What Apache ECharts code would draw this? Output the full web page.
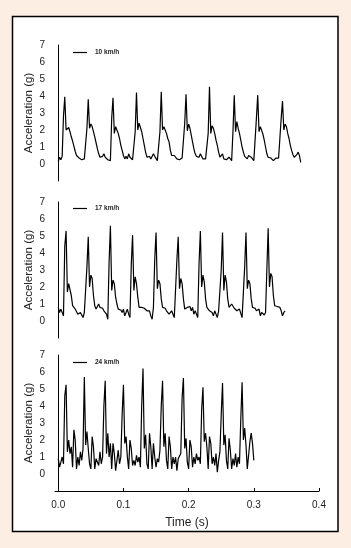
<!DOCTYPE html>
<html>
<head>
<meta charset="utf-8">
<script src="https://cdn.jsdelivr.net/npm/echarts@6/dist/echarts.min.js"></script>
<style>
  html, body { margin: 0; padding: 0; background: #fdeee4; }
  #chart { width: 351px; height: 548px; }
</style>
</head>
<body>
<div id="chart"></div>
<script>
// legend names for the three panels
const speeds = ["10 km/h", "17 km/h", "24 km/h"];
// sampling step of the traces, seconds
const sampleStep = 0.002;

// acceleration (g), one value per sample
const acc10 = [
  0.15, 0.4, 0.25, 0.45, 2.8, 3.95, 2.0, 2.1, 2.15, 1.9, 1.6, 1.35, 1.05, 0.75, 0.5, 0.45, 0.35, 0.3, 0.25, 0.25,
  0.3, 0.25, 2.1, 3.8, 2.1, 2.35, 2.2, 1.9, 1.6, 1.25, 0.9, 0.6, 0.4, 0.35, 0.45, 0.6, 0.4, 0.3, 0.25, 0.3,
  0.2, 2.7, 3.9, 1.8, 2.2, 2.0, 1.8, 1.5, 1.1, 0.8, 0.5, 0.3, 0.45, 0.3, 0.6, 0.4, 0.3, 0.25, 0.25, 1.9,
  4.2, 2.0, 2.4, 2.3, 1.9, 1.5, 1.1, 0.7, 0.4, 0.35, 0.45, 0.3, 0.35, 0.6, 0.45, 0.35, 0.2, 0.15, 1.9, 4.25,
  2.0, 2.2, 2.0, 1.8, 1.5, 1.3, 0.8, 0.5, 0.5, 0.5, 0.5, 0.3, 0.2, 0.25, 0.25, 0.35, 0.3, 2.4, 4.1, 1.95,
  2.35, 2.1, 1.7, 1.3, 0.9, 0.6, 0.45, 0.5, 0.4, 0.6, 0.5, 0.3, 0.25, 0.3, 0.2, 1.8, 4.55, 1.8, 2.25, 2.1,
  1.8, 1.4, 1.1, 0.7, 0.4, 0.5, 0.6, 0.3, 0.2, 0.25, 0.3, 0.4, 0.35, 0.2, 1.9, 4.05, 1.9, 2.5, 2.1, 1.8,
  1.4, 1.0, 0.7, 0.45, 0.45, 0.3, 0.5, 0.55, 0.4, 0.3, 0.2, 0.3, 2.7, 4.05, 1.9, 2.2, 2.1, 1.75, 1.4, 1.0,
  0.6, 0.4, 0.3, 0.35, 0.35, 0.2, 0.3, 0.35, 0.3, 0.35, 0.35, 2.7, 3.7, 2.0, 2.35, 2.2, 1.8, 1.5, 1.1, 0.8,
  0.55, 0.4, 0.5, 0.55, 0.7, 0.5, 0.1
];
const acc17 = [
  0.8, 0.5, 0.7, 0.6, 0.3, 4.4, 5.3, 1.7, 2.2, 2.1, 1.5, 0.9, 1.0, 0.7, 0.6, 0.4, 0.3, 0.5, 0.6, 0.2,
  0.5, 0.6, 3.2, 4.95, 2.0, 2.7, 2.5, 1.5, 0.9, 0.7, 0.8, 1.0, 0.8, 0.7, 0.75, 0.6, 0.7, 0.4, 0.1, 3.5,
  5.6, 1.8, 2.4, 2.2, 1.4, 1.0, 0.7, 0.8, 0.65, 0.5, 0.7, 0.3, 0.5, 0.7, 0.4, 0.2, 3.3, 5.05, 1.8, 2.6,
  2.2, 1.4, 0.8, 0.8, 0.8, 0.85, 0.75, 0.8, 0.6, 0.5, 0.6, 0.3, 0.1, 0.8, 3.6, 5.2, 1.9, 2.4, 2.2, 1.3,
  0.8, 0.7, 0.75, 0.6, 0.7, 0.4, 0.3, 0.6, 0.4, 0.2, 0.3, 3.6, 4.95, 1.9, 2.5, 2.2, 1.3, 0.7, 0.8, 0.8,
  0.7, 0.85, 0.6, 0.8, 0.4, 0.6, 0.5, 0.2, 3.4, 5.3, 2.0, 2.7, 2.3, 1.3, 0.8, 0.7, 0.6, 0.7, 0.5, 0.3,
  0.6, 0.5, 0.2, 0.6, 0.5, 3.0, 5.2, 1.8, 2.7, 2.3, 1.3, 0.8, 0.8, 1.0, 0.9, 0.75, 0.8, 0.6, 0.5, 0.7,
  0.6, 0.2, 0.3, 3.2, 5.2, 1.9, 2.4, 2.2, 1.3, 0.8, 0.7, 0.75, 0.6, 0.5, 0.7, 0.3, 0.5, 0.45, 0.35, 0.5,
  3.0, 5.45, 2.0, 2.8, 2.6, 1.5, 0.9, 0.8, 0.85, 0.85, 0.8, 0.6, 0.3, 0.5, 0.6
];
const acc24 = [
  0.9, 0.4, 0.7, 1.0, 0.6, 4.6, 5.25, 1.3, 2.0, 1.2, 1.6, 0.4, 2.6, 2.0, 0.3, 1.0, 0.5, 1.3, 0.8, 1.5,
  5.7, 1.7, 2.5, 1.5, 0.6, 0.3, 2.2, 1.6, 0.3, 0.9, 1.0, 0.5, 1.3, 0.6, 1.0, 4.0, 5.48, 1.2, 2.4, 1.0,
  1.8, 0.3, 1.8, 1.2, 0.2, 0.8, 1.4, 0.6, 1.0, 3.5, 5.25, 1.8, 2.2, 1.0, 0.3, 2.0, 1.5, 0.5, 0.8, 0.5,
  1.1, 0.7, 1.0, 0.4, 4.0, 6.2, 1.5, 2.3, 0.6, 0.3, 2.4, 1.6, 0.3, 1.8, 1.0, 0.4, 0.9, 0.7, 1.4, 4.0,
  5.48, 1.6, 2.4, 0.8, 0.3, 2.2, 1.6, 0.3, 1.0, 0.6, 1.0, 0.2, 0.9, 0.8, 1.2, 4.5, 5.65, 1.5, 2.1, 0.7,
  0.3, 2.0, 1.6, 0.4, 1.0, 0.6, 1.2, 0.8, 1.0, 0.6, 3.8, 5.1, 1.9, 2.4, 1.6, 0.3, 2.2, 1.8, 0.6, 1.0,
  0.5, 1.2, 0.1, 0.8, 1.3, 3.5, 5.35, 1.7, 2.3, 0.8, 0.3, 2.1, 1.4, 0.3, 0.9, 0.5, 1.2, 0.4, 1.0, 0.6,
  3.2, 5.4, 2.0, 2.7, 1.7, 0.3, 0.3, 1.9, 2.4, 1.8, 0.8
];

const timeTicks = [0, 0.1, 0.2, 0.3, 0.4];
const traces = [acc10, acc17, acc24];

const font = "Liberation Sans, Arial, sans-serif";
const gridTops = [45, 202, 355];
const legendTops = [44, 200, 354];

const grids = gridTops.map((t) => ({ left: 55, top: t, width: 264, height: 136 }));

const xAxes = gridTops.map((t, i) => {
  const last = i === 2;
  return {
    type: "value",
    gridIndex: i,
    min: -0.005,
    max: 0.4,
    name: last ? "Time (s)" : "",
    nameLocation: "middle",
    nameGap: 26,
    nameMoveOverlap: false,
    nameTextStyle: { fontFamily: font, fontSize: 12, color: "#222" },
    axisLine: { show: last, onZero: false, lineStyle: { color: "#000", width: 1 } },
    axisTick: {
      show: last,
      inside: true,
      length: 3,
      customValues: timeTicks,
      lineStyle: { color: "#000" },
    },
    axisLabel: {
      show: last,
      customValues: timeTicks,
      margin: 9,
      fontFamily: font,
      fontSize: 10,
      color: "#222",
      formatter: (v) => v.toFixed(1),
    },
    splitLine: { show: false },
  };
});

const yAxes = gridTops.map((t, i) => ({
  type: "value",
  gridIndex: i,
  min: -1,
  max: 7,
  interval: 1,
  name: "Acceleration (g)",
  nameLocation: "middle",
  nameGap: 20,
  nameMoveOverlap: false,
  nameTextStyle: { fontFamily: font, fontSize: 11.5, color: "#222" },
  axisLine: { show: true, lineStyle: { color: "#000", width: 1 } },
  axisTick: { show: false },
  axisLabel: {
    margin: 10,
    fontFamily: font,
    fontSize: 10,
    color: "#222",
    formatter: (v) => (v < 0 ? "" : String(v)),
  },
  splitLine: { show: false },
}));

const legends = speeds.map((s, i) => ({
  data: [s],
  left: 68,
  top: legendTops[i],
  icon: "rect",
  itemWidth: 14,
  itemHeight: 1.2,
  itemStyle: { color: "#000" },
  textStyle: { fontFamily: font, fontSize: 6.5, fontWeight: "bold", color: "#222", padding: [0, 0, 0, 3] },
}));

const series = traces.map((vals, i) => ({
  name: speeds[i],
  type: "line",
  xAxisIndex: i,
  yAxisIndex: i,
  showSymbol: false,
  symbol: "none",
  data: vals.map((v, k) => [k * sampleStep, v]),
  lineStyle: { color: "#000", width: 1.2 },
  itemStyle: { color: "#000" },
}));

const option = {
  animation: false,
  backgroundColor: "#fdeee4",
  graphic: [
    {
      type: "rect",
      z: -10,
      shape: { x: 12.5, y: 16.5, width: 325.5, height: 515 },
      style: { fill: "#fff", stroke: "#000", lineWidth: 1.5 },
    },
  ],
  grid: grids,
  xAxis: xAxes,
  yAxis: yAxes,
  legend: legends,
  series: series,
};

const myChart = echarts.init(document.getElementById("chart"));
myChart.setOption(option);
</script>
</body>
</html>
